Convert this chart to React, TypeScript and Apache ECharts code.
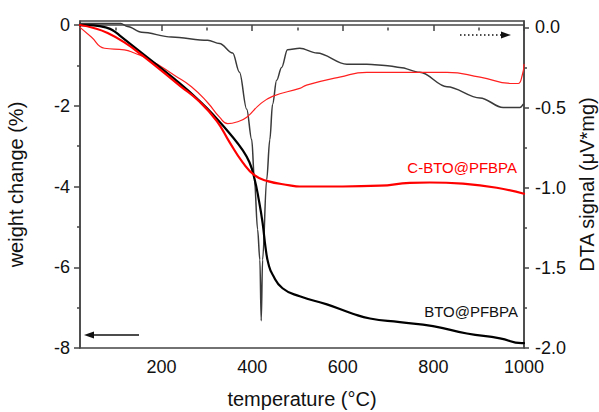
import React, { useEffect, useRef } from "react";
import * as echarts from "echarts";

// Weight change (%) – TGA curves (left axis)
const btoTga: [number, number][] = [
  [20, 0], [50, -0.01], [80, -0.07], [95, -0.15], [110, -0.28], [156, -0.69], [229, -1.34],
  [284, -1.88], [322, -2.32], [350, -2.68], [379, -3.1], [394, -3.4], [405, -3.8],
  [415, -4.35], [423, -4.9], [430, -5.55], [436, -5.92], [445, -6.18], [467, -6.52],
  [505, -6.72], [565, -6.92], [622, -7.15], [660, -7.27], [726, -7.36], [799, -7.46],
  [874, -7.64], [947, -7.76], [995, -7.88], [1000, -7.88],
];
const cbtoTga: [number, number][] = [
  [20, 0], [52, -0.08], [81, -0.2], [118, -0.43], [156, -0.74], [240, -1.5], [284, -1.9],
  [322, -2.38], [350, -2.9], [379, -3.4], [405, -3.72], [432, -3.86], [483, -3.97],
  [505, -4.0], [600, -4.0], [682, -3.98], [748, -3.91], [792, -3.9], [865, -3.93],
  [940, -4.03], [1000, -4.18],
];
// DTA signal (µV*mg) – right axis
const btoDta: [number, number][] = [
  [20, 0.025], [110, 0.025], [125, 0.005], [156, -0.03], [222, -0.06], [302, -0.08],
  [328, -0.1], [357, -0.16], [372, -0.28], [388, -0.51], [399, -0.7], [405, -0.95],
  [412, -1.26], [417, -1.45], [420, -1.83], [423, -1.45], [432, -0.95], [439, -0.7],
  [445, -0.48], [454, -0.33], [465, -0.25], [478, -0.14], [505, -0.13], [543, -0.16],
  [609, -0.23], [653, -0.23], [704, -0.24], [726, -0.25], [770, -0.28], [830, -0.37],
  [903, -0.44], [954, -0.5], [991, -0.5], [998, -0.48],
];
const cbtoDta: [number, number][] = [
  [20, 0.0], [45, -0.06], [74, -0.13], [118, -0.14], [140, -0.16], [173, -0.2], [229, -0.3],
  [266, -0.37], [302, -0.47], [328, -0.56], [346, -0.6], [366, -0.59], [388, -0.56],
  [417, -0.48], [445, -0.43], [505, -0.38], [520, -0.36], [593, -0.31], [653, -0.28],
  [704, -0.28], [755, -0.28], [830, -0.28], [903, -0.31], [976, -0.35], [987, -0.35],
  [996, -0.3], [1000, -0.23],
];

const xMajor = [200, 400, 600, 800, 1000];
const xMinor = [100, 300, 500, 700, 900];
const wMajor = [0, -2, -4, -6, -8];
const wMinor = [-1, -3, -5, -7];
const dMajor = [0, -0.5, -1, -1.5, -2];
const dMinor = [-0.25, -0.75, -1.25, -1.75];

const FONT = "Liberation Sans";
const AX = "#444";

export default function App() {
  const ref = useRef<HTMLDivElement>(null);
  useEffect(() => {
    if (!ref.current) return;
    const chart = echarts.init(ref.current, null, { renderer: "svg" });
    const axisLine = { show: true, lineStyle: { color: AX, width: 1.5 } };
    const labelStyle = { fontSize: 18, color: "#111", fontFamily: FONT };
    const nameStyle = { fontSize: 20, color: "#111", fontFamily: FONT };
    const line = (data: [number, number][], yi: number, color: string, width: number, mono: boolean) => ({
      type: "line", xAxisIndex: 0, yAxisIndex: yi, data, showSymbol: false, symbol: "none",
      smooth: mono ? 0.35 : 0.5, smoothMonotone: mono ? "x" : undefined,
      lineStyle: { color, width, join: "round", cap: "round" },
    });
    chart.setOption({
      animation: false,
      backgroundColor: "#fff",
      grid: {
        left: 80, right: 75, top: 21, bottom: 64, show: true, borderColor: AX, borderWidth: 1.5,
        backgroundColor: "transparent", containLabel: false, outerBoundsMode: "none",
      },
      xAxis: [
        {
          type: "value", min: 20, max: 1000, position: "bottom",
          axisLine,
          axisTick: { show: true, length: 6, customValues: xMajor, lineStyle: { color: AX, width: 1.5 } },
          axisLabel: { ...labelStyle, margin: 10, customValues: xMajor, formatter: (v: number) => String(v) },
          splitLine: { show: false },
          name: "temperature (°C)", nameLocation: "middle", nameGap: 41, nameTextStyle: nameStyle,
        },
        {
          type: "value", min: 20, max: 1000, position: "bottom",
          axisLine: { show: false },
          axisTick: { show: true, length: 3, customValues: xMinor, lineStyle: { color: AX, width: 1.5 } },
          axisLabel: { show: false },
          splitLine: { show: false },
        },
      ],
      yAxis: [
        {
          type: "value", min: -8, max: 0.1, position: "left",
          axisLine,
          axisTick: { show: true, length: 6, customValues: wMajor, lineStyle: { color: AX, width: 1.5 } },
          axisLabel: { ...labelStyle, margin: 10, customValues: wMajor, formatter: (v: number) => String(v) },
          splitLine: { show: false },
          name: "weight change (%)", nameLocation: "middle", nameRotate: 90, nameGap: 54, nameTextStyle: nameStyle,
        },
        {
          type: "value", min: -2, max: 0.04, position: "right",
          axisLine,
          axisTick: { show: true, length: 5, customValues: dMajor, lineStyle: { color: AX, width: 1.5 } },
          axisLabel: { ...labelStyle, margin: 11, customValues: dMajor, formatter: (v: number) => v.toFixed(1) },
          splitLine: { show: false },
          name: "DTA signal (μV*mg)", nameLocation: "middle", nameRotate: 90, nameGap: 50, nameTextStyle: nameStyle,
        },
        {
          type: "value", min: -8, max: 0.1, position: "left",
          axisLine: { show: false },
          axisTick: { show: true, length: 3, customValues: wMinor, lineStyle: { color: AX, width: 1.5 } },
          axisLabel: { show: false },
          splitLine: { show: false },
        },
        {
          type: "value", min: -2, max: 0.04, position: "right",
          axisLine: { show: false },
          axisTick: { show: true, length: 3, customValues: dMinor, lineStyle: { color: AX, width: 1.5 } },
          axisLabel: { show: false },
          splitLine: { show: false },
        },
      ],
      series: [
        line(btoDta, 1, "#3a3a3a", 1.5, true),
        line(cbtoDta, 1, "#ff2020", 1.2, false),
        line(btoTga, 0, "#000000", 2.2, false),
        line(cbtoTga, 0, "#ff0000", 2.2, false),
      ],
      graphic: [
        { type: "text", right: 599 - 517, top: 160, style: { text: "C-BTO@PFBPA", fill: "#ff0000", font: `15px "${FONT}"` } },
        { type: "text", right: 599 - 518, top: 304, style: { text: "BTO@PFBPA", fill: "#111", font: `15px "${FONT}"` } },
        { type: "line", shape: { x1: 92, y1: 335, x2: 139, y2: 335 }, style: { stroke: "#111", lineWidth: 1.5 } },
        { type: "polygon", shape: { points: [[84, 335], [94, 331.5], [94, 338.5]] }, style: { fill: "#111" } },
        { type: "line", shape: { x1: 460, y1: 35, x2: 502, y2: 35 }, style: { stroke: "#111", lineWidth: 1.3, lineDash: [1.5, 2.5] } },
        { type: "polygon", shape: { points: [[511, 35], [501, 31.5], [501, 38.5]] }, style: { fill: "#111" } },
      ],
    });
    return () => chart.dispose();
  }, []);
  return <div ref={ref} style={{ position: "fixed", left: 0, top: 0, width: 599, height: 412, background: "#fff" }} />;
}
